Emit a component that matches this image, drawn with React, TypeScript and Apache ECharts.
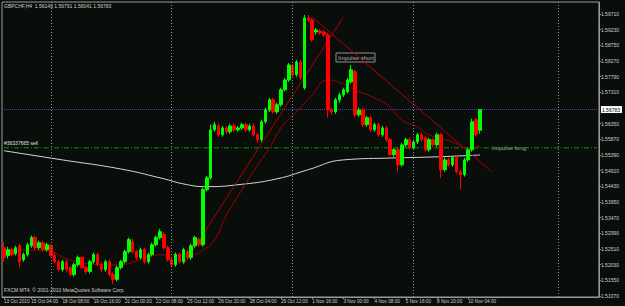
import React, { useEffect, useRef } from "react";
import * as echarts from "echarts";

const timeLabels = ["13 Oct 2010","15 Oct 04:00","18 Oct 08:00","19 Oct 16:00","21 Oct 00:00","22 Oct 08:00","25 Oct 12:00","26 Oct 20:00","28 Oct 04:00","29 Oct 12:00","1 Nov 16:00","3 Nov 00:00","4 Nov 08:00","5 Nov 16:00","8 Nov 20:00","10 Nov 04:00"];
const timeLabelBars = [0,7,15,23,31,39,47,55,63,71,79,87,95,103,111,119];
const totalSlots = 153;

const priceTicks = [1.5971,1.5923,1.5875,1.5827,1.5779,1.5731,1.5635,1.5587,1.5539,1.5491,1.5443,1.5395,1.5347,1.5299,1.5251,1.5203,1.5155,1.5107];

// [open, close, low, high]
const bars: number[][] = [
[1.5255,1.5225,1.5212,1.5273],[1.5231,1.5249,1.5222,1.5258],[1.5249,1.5234,1.5228,1.5255],[1.5237,1.5255,1.5231,1.5261],
[1.5261,1.5212,1.5194,1.5267],[1.5218,1.5234,1.5212,1.5240],[1.5234,1.5264,1.5228,1.5270],[1.5261,1.5286,1.5255,1.5292],
[1.5286,1.5255,1.5249,1.5292],[1.5255,1.5270,1.5249,1.5276],[1.5270,1.5249,1.5243,1.5276],[1.5249,1.5264,1.5243,1.5270],
[1.5261,1.5231,1.5225,1.5267],[1.5231,1.5212,1.5206,1.5240],[1.5212,1.5188,1.5182,1.5218],[1.5188,1.5212,1.5182,1.5218],
[1.5212,1.5188,1.5179,1.5218],[1.5194,1.5173,1.5167,1.5200],[1.5173,1.5203,1.5167,1.5209],[1.5203,1.5225,1.5197,1.5231],
[1.5225,1.5194,1.5188,1.5231],[1.5194,1.5182,1.5173,1.5200],[1.5182,1.5212,1.5176,1.5218],[1.5212,1.5234,1.5206,1.5240],
[1.5234,1.5203,1.5197,1.5240],[1.5203,1.5188,1.5179,1.5209],[1.5188,1.5212,1.5182,1.5218],[1.5212,1.5173,1.5167,1.5218],
[1.5173,1.5158,1.5143,1.5179],[1.5158,1.5194,1.5152,1.5200],[1.5194,1.5212,1.5188,1.5218],[1.5212,1.5243,1.5206,1.5249],
[1.5243,1.5280,1.5237,1.5286],[1.5273,1.5243,1.5237,1.5283],[1.5243,1.5225,1.5218,1.5249],[1.5225,1.5249,1.5218,1.5255],
[1.5249,1.5212,1.5206,1.5255],[1.5212,1.5234,1.5206,1.5240],[1.5234,1.5264,1.5228,1.5270],[1.5264,1.5286,1.5258,1.5292],
[1.5286,1.5304,1.5280,1.5313],[1.5295,1.5255,1.5249,1.5304],[1.5255,1.5218,1.5212,1.5261],[1.5218,1.5203,1.5194,1.5225],
[1.5203,1.5234,1.5197,1.5240],[1.5234,1.5212,1.5206,1.5240],[1.5212,1.5249,1.5206,1.5255],[1.5243,1.5225,1.5218,1.5249],
[1.5225,1.5261,1.5218,1.5267],[1.5261,1.5286,1.5255,1.5292],[1.5280,1.5264,1.5258,1.5286],[1.5264,1.5433,1.5258,1.5439],
[1.5433,1.5469,1.5427,1.5475],[1.5469,1.5616,1.5463,1.5632],[1.5616,1.5632,1.5610,1.5641],[1.5628,1.5601,1.5595,1.5635],
[1.5601,1.5622,1.5595,1.5628],[1.5622,1.5610,1.5604,1.5628],[1.5610,1.5628,1.5604,1.5635],[1.5628,1.5616,1.5610,1.5635],
[1.5616,1.5622,1.5610,1.5628],[1.5622,1.5632,1.5616,1.5638],[1.5632,1.5616,1.5610,1.5638],[1.5616,1.5628,1.5610,1.5635],
[1.5628,1.5601,1.5595,1.5635],[1.5601,1.5586,1.5576,1.5607],[1.5586,1.5641,1.5579,1.5647],[1.5641,1.5677,1.5635,1.5684],
[1.5677,1.5708,1.5671,1.5714],[1.5708,1.5671,1.5665,1.5714],[1.5671,1.5693,1.5665,1.5699],[1.5693,1.5739,1.5687,1.5745],
[1.5739,1.5769,1.5733,1.5775],[1.5769,1.5815,1.5763,1.5821],[1.5812,1.5785,1.5779,1.5818],[1.5785,1.5824,1.5779,1.5830],
[1.5824,1.5775,1.5769,1.5830],[1.5745,1.5959,1.5739,1.5968],[1.5959,1.5953,1.5947,1.5968],[1.5953,1.5892,1.5886,1.5959],
[1.5916,1.5922,1.5907,1.5928],[1.5919,1.5913,1.5907,1.5925],[1.5916,1.5907,1.5901,1.5922],[1.5907,1.5677,1.5653,1.5913],
[1.5677,1.5671,1.5662,1.5684],[1.5671,1.5708,1.5665,1.5714],[1.5708,1.5723,1.5699,1.5730],[1.5723,1.5739,1.5717,1.5745],
[1.5733,1.5769,1.5727,1.5775],[1.5763,1.5800,1.5757,1.5815],[1.5794,1.5662,1.5656,1.5800],[1.5662,1.5677,1.5656,1.5684],
[1.5677,1.5632,1.5625,1.5684],[1.5632,1.5653,1.5625,1.5659],[1.5653,1.5616,1.5610,1.5659],[1.5616,1.5632,1.5610,1.5638],
[1.5632,1.5601,1.5595,1.5638],[1.5601,1.5622,1.5595,1.5628],[1.5622,1.5586,1.5579,1.5628],[1.5586,1.5540,1.5534,1.5592],
[1.5540,1.5555,1.5534,1.5561],[1.5555,1.5509,1.5488,1.5561],[1.5509,1.5570,1.5503,1.5576],[1.5570,1.5586,1.5564,1.5592],
[1.5586,1.5561,1.5555,1.5592],[1.5561,1.5579,1.5555,1.5586],[1.5579,1.5601,1.5573,1.5607],[1.5601,1.5586,1.5579,1.5607],
[1.5592,1.5555,1.5549,1.5598],[1.5555,1.5586,1.5549,1.5592],[1.5586,1.5570,1.5564,1.5592],[1.5570,1.5601,1.5564,1.5607],
[1.5601,1.5494,1.5469,1.5607],[1.5494,1.5524,1.5488,1.5531],[1.5524,1.5509,1.5503,1.5531],[1.5509,1.5531,1.5503,1.5537],
[1.5531,1.5488,1.5482,1.5537],[1.5488,1.5479,1.5433,1.5494],[1.5479,1.5524,1.5473,1.5531],[1.5524,1.5555,1.5518,1.5561],
[1.5555,1.5641,1.5549,1.5650],[1.5647,1.5601,1.5595,1.5653],[1.56148,1.56783,1.56041,1.56791]
];

const ma200Idx = [0,15,30,40,47,52,60,70,78,87,100,110,122];
const ma200Val = [1.5552,1.5524,1.5496,1.5469,1.5448,1.5442,1.5448,1.5466,1.5494,1.5524,1.5530,1.5533,1.5539];

const redMaIdx = [0,9,19,29,40,48,51,54,57,61,65,68,71,75,79,83,87,90,95,99,102,106,109,115,119,122];
const redMaVal = [1.5242,1.5248,1.5211,1.5202,1.5233,1.5233,1.5248,1.5279,1.5355,1.5432,1.5508,1.5560,1.5622,1.5671,1.5723,1.5769,1.5757,1.5738,1.5714,1.5686,1.5646,1.5625,1.5600,1.5579,1.5560,1.5567];

const lastPrice = 1.56783;
const orderPrice = 1.5561;
const gridBars = [12,43,74,105,142];
const trendUp = [[46,1.5203],[87,1.5962]];
const trendDown = [[79,1.5962],[125,1.5488]];

export default function App() {
  const ref = useRef<HTMLDivElement>(null);
  useEffect(() => {
    if (!ref.current) return;
    const chart = echarts.init(ref.current, undefined, { renderer: "svg" });
    const cats = Array.from({ length: totalSlots }, (_, i) => String(i));
    const labelMap = new Map<number, string>();
    timeLabelBars.forEach((b, k) => labelMap.set(b, timeLabels[k]));
    const font = "Liberation Sans";
    const trendStyle = { color: "#b00000", width: 1 };
    const lastSlot = totalSlots - 1;
    chart.setOption({
      animation: false,
      backgroundColor: "#0a0e0a",
      textStyle: { fontFamily: font },
      grid: { left: 2, right: 19, top: 2, bottom: 9, show: true, borderColor: "#9a9a9a", borderWidth: 1 },
      xAxis: {
        type: "category",
        data: cats,
        boundaryGap: true,
        axisLine: { lineStyle: { color: "#9a9a9a" } },
        axisTick: { show: true, length: 2, alignWithLabel: true, interval: (i: number) => labelMap.has(i), lineStyle: { color: "#9a9a9a" } },
        axisLabel: {
          interval: (i: number) => labelMap.has(i),
          formatter: (_v: string, i: number) => labelMap.get(i) || "",
          color: "#d0d0d0", fontSize: 4.7, margin: 1.5, align: "left", fontFamily: font,
        },
        splitLine: { show: false },
      },
      yAxis: {
        type: "value",
        position: "right",
        min: 1.51039,
        max: 1.60078,
        axisLine: { show: true, lineStyle: { color: "#9a9a9a" } },
        axisTick: { show: true, length: 2, customValues: priceTicks, lineStyle: { color: "#9a9a9a" } },
        axisLabel: {
          customValues: [...priceTicks, lastPrice],
          formatter: (v: number) => (Math.abs(v - lastPrice) < 1e-7 ? `{hl|${v.toFixed(5)}}` : v.toFixed(5)),
          color: "#d0d0d0", fontSize: 5, margin: 2, fontFamily: font,
          rich: { hl: { backgroundColor: "#ffffff", color: "#000000", fontSize: 5, padding: [1, 2, 1, 1], fontFamily: font } },
        },
        splitLine: { show: false },
      },
      series: [
        {
          type: "line",
          data: ma200Idx.map((b, k) => [b, ma200Val[k]]),
          showSymbol: false,
          smooth: true,
          lineStyle: { color: "#d8d8d8", width: 1 },
          silent: true,
          z: 1,
          markLine: {
            silent: true,
            symbol: ["none", "none"],
            label: { show: false },
            data: gridBars.map((b) => ({ xAxis: b, lineStyle: { color: "#8a8a8a", type: [1, 2], width: 1 } })),
          },
        },
        { type: "line", data: [[0, orderPrice], [lastSlot, orderPrice]], showSymbol: false, silent: true, z: 1, lineStyle: { color: "#00a000", type: [5, 2, 1, 2], width: 1 } },
        { type: "line", data: [[0, lastPrice], [lastSlot, lastPrice]], showSymbol: false, silent: true, z: 1, lineStyle: { color: "#4848c0", type: [1, 1], width: 1 } },
        {
          type: "line",
          data: redMaIdx.map((b, k) => [b, redMaVal[k]]),
          showSymbol: false,
          smooth: true,
          lineStyle: { color: "#a00000", width: 1 },
          silent: true,
          z: 1,
        },
        { type: "line", data: trendUp, showSymbol: false, lineStyle: trendStyle, silent: true, z: 1 },
        { type: "line", data: trendDown, showSymbol: false, lineStyle: trendStyle, silent: true, z: 1 },
        {
          type: "candlestick",
          data: bars,
          barWidth: 3,
          z: 2,
          itemStyle: { color: "#00ff00", color0: "#ff0000", borderColor: "#00ff00", borderColor0: "#ff0000", borderWidth: 1 },
        },
      ],
      graphic: [
        { type: "text", left: 4, top: 3, style: { text: "GBPCHF,H4  1.56148 1.56791 1.56041 1.56783", fill: "#d0d0d0", font: `5px ${font}` } },
        { type: "text", left: 4, top: 287, style: { text: "FXCM MT4, © 2001-2010 MetaQuotes Software Corp.", fill: "#d0d0d0", font: `5px ${font}` } },
        { type: "text", left: 4, top: 140, style: { text: "#36337665 sell", fill: "#e0e0e0", font: `5px ${font}` } },
        { type: "text", left: 492, top: 145, style: { text: "Impulse long", fill: "#a8a8a8", font: `6px ${font}` } },
        { type: "rect", shape: { x: 336, y: 53, width: 39, height: 9 }, style: { fill: "none", stroke: "#909090", lineWidth: 1 } },
        { type: "text", left: 338, top: 55, style: { text: "Impulse short", fill: "#b0b0b0", font: `6px ${font}` } },
      ],
    });
    return () => chart.dispose();
  }, []);
  return <div ref={ref} style={{ position: "fixed", left: 0, top: 0, width: 625, height: 306 }} />;
}
